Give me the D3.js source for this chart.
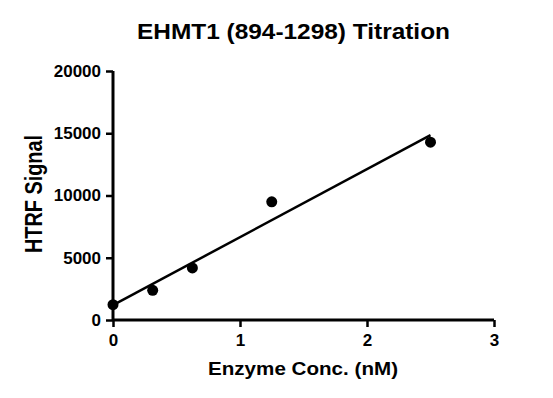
<!DOCTYPE html>
<html>
<head>
<meta charset="utf-8" />
<title>EHMT1 Titration</title>
<script src="https://d3js.org/d3.v7.min.js"></script>
<style>
  body { margin: 0; background: #fff; }
  text { font-family: "Liberation Sans", Arial, sans-serif; font-weight: bold; fill: #000; }
</style>
</head>
<body>
<div id="chart"></div>
<script>
// data
var conc = [0, 0.3125, 0.625, 1.25, 2.5];
var signal = [1230, 2380, 4180, 9490, 14280];
var xTicks = [0, 1, 2, 3];
var yTicks = [0, 5000, 10000, 15000, 20000];

var width = 553, height = 398;
var svg = d3.select("#chart").append("svg").attr("width", width).attr("height", height);

var x = d3.scaleLinear().domain([0, 3]).range([113, 494]);
var y = d3.scaleLinear().domain([0, 20000]).range([320, 71]);

// linear fit through the points
var mx = d3.mean(conc), my = d3.mean(signal);
var sxy = d3.sum(conc, function(d, i) { return (d - mx) * (signal[i] - my); });
var sxx = d3.sum(conc, function(d) { return (d - mx) * (d - mx); });
var slope = sxy / sxx, icpt = my - slope * mx;
var fitX = [0, d3.max(conc)];

var xAxis = svg.append("g").attr("transform", "translate(0,320)")
  .call(d3.axisBottom(x).tickValues(xTicks).tickFormat(d3.format("d")).tickSize(7).tickPadding(7));
var yAxis = svg.append("g").attr("transform", "translate(113,0)")
  .call(d3.axisLeft(y).tickValues(yTicks).tickFormat(d3.format("d")).tickSize(7).tickPadding(5));

[xAxis, yAxis].forEach(function(a) {
  a.select(".domain").attr("stroke", "#000").attr("stroke-width", 3);
  a.selectAll(".tick line").attr("stroke", "#000").attr("stroke-width", 2.5);
  a.selectAll(".tick text").style("font-size", "17px").style("font-weight", "bold")
    .style("font-family", "Liberation Sans, Arial, sans-serif").attr("fill", "#000");
});
// plain axis ends, no outer ticks
xAxis.select(".domain").attr("d", "M" + x(0) + ",0H" + x(3));
yAxis.select(".domain").attr("d", "M0," + y(0) + "V" + y(20000));

svg.append("line")
  .attr("x1", x(fitX[0])).attr("y1", y(icpt + slope * fitX[0]))
  .attr("x2", x(fitX[1])).attr("y2", y(icpt + slope * fitX[1]))
  .attr("stroke", "#000").attr("stroke-width", 2.5);

svg.selectAll("circle.pt").data(conc).enter().append("circle")
  .attr("class", "pt")
  .attr("cx", function(d) { return x(d); })
  .attr("cy", function(d, i) { return y(signal[i]); })
  .attr("r", 5.5).attr("fill", "#000");

svg.append("text").attr("x", 293.5).attr("y", 38.5).attr("text-anchor", "middle")
  .attr("textLength", 313).attr("lengthAdjust", "spacingAndGlyphs")
  .style("font-size", "22px").text("EHMT1 (894-1298) Titration");
svg.append("text").attr("x", 303).attr("y", 375).attr("text-anchor", "middle")
  .attr("textLength", 190).attr("lengthAdjust", "spacingAndGlyphs")
  .style("font-size", "18.5px").text("Enzyme Conc. (nM)");
svg.append("text").attr("transform", "translate(42,194) scale(1.2,1) rotate(-90)").attr("text-anchor", "middle")
  .attr("textLength", 118).attr("lengthAdjust", "spacingAndGlyphs")
  .style("font-size", "20px").text("HTRF Signal");
</script>
</body>
</html>
